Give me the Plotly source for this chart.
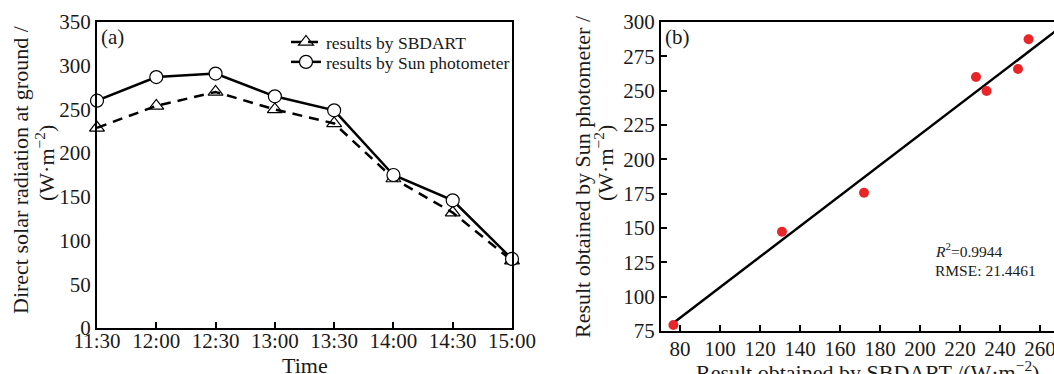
import plotly.graph_objects as go

W, H = 1054, 374

# ---- data ----
times = ["11:30", "12:00", "12:30", "13:00", "13:30", "14:00", "14:30", "15:00"]
sbdart = [229, 254, 270, 250, 234, 171, 132, 77]
sunphot = [260, 287, 291, 265, 249, 175, 146, 79]

scatter_x = [76.7, 131, 172, 228, 233.3, 249, 254.3]
scatter_y = [79.4, 147.3, 175.7, 260, 249.8, 265.8, 287.4]

fit_slope = 1.112
fit_intercept = -4.4
fit_x = [77.5, 275]
fit_y = [fit_slope * v + fit_intercept for v in fit_x]

left_yticks = [0, 50, 100, 150, 200, 250, 300, 350]
right_xticks = [80, 100, 120, 140, 160, 180, 200, 220, 240, 260]
right_yticks = [75, 100, 125, 150, 175, 200, 225, 250, 275, 300]

FONT = "Liberation Serif"
TXT = "#1a1a1a"

def px(x):
    return x / W

def py(y):
    return 1 - y / H

fig = go.Figure()

fig.add_trace(go.Scatter(
    x=times, y=sbdart, name="results by SBDART", mode="lines+markers",
    line=dict(color="black", width=2.5, dash="10px,7px"),
    marker=dict(symbol="triangle-up-open", size=13, color="black", line=dict(width=1.2)),
    cliponaxis=False, xaxis="x", yaxis="y", legend="legend"))
fig.add_trace(go.Scatter(
    x=times, y=sunphot, name="results by Sun photometer", mode="lines+markers",
    line=dict(color="black", width=2.5),
    marker=dict(symbol="circle", size=13, color="white", line=dict(width=1.2, color="black")),
    cliponaxis=False, xaxis="x", yaxis="y", legend="legend2"))

fig.add_trace(go.Scatter(
    x=fit_x, y=fit_y, mode="lines", line=dict(color="black", width=2.5),
    showlegend=False, xaxis="x2", yaxis="y2"))
fig.add_trace(go.Scatter(
    x=scatter_x, y=scatter_y, mode="markers",
    marker=dict(color="#e8262a", size=10), cliponaxis=False,
    showlegend=False, xaxis="x2", yaxis="y2"))

tickfont = dict(family=FONT, size=21, color=TXT)
legfont = dict(family=FONT, size=17.5, color=TXT)

fig.update_layout(
    width=W, height=H,
    margin=dict(l=0, r=0, t=0, b=0),
    paper_bgcolor="white", plot_bgcolor="white",
    font=dict(family=FONT, color=TXT),
    xaxis=dict(domain=[px(97), px(512)], type="category", range=[0, 7],
               showline=True, linecolor="black", linewidth=2, mirror=True,
               ticks="inside", ticklen=6, tickwidth=1.5, tickcolor="black",
               tickfont=tickfont, showgrid=False, zeroline=False, automargin=False,
               ticklabelstandoff=-7, ticklabeloverflow="allow", anchor="y"),
    yaxis=dict(domain=[py(328), py(22)], range=[0, 350], tickvals=left_yticks,
               showline=True, linecolor="black", linewidth=2, mirror=True,
               ticks="", tickfont=tickfont, showgrid=False, zeroline=False,
               automargin=False, ticklabeloverflow="allow", anchor="x"),
    xaxis2=dict(domain=[px(661), 1], range=[70.5, 267], tickvals=right_xticks,
                showline=True, linecolor="black", linewidth=2, mirror=True,
                ticks="inside", ticklen=6, tickwidth=1.5, tickcolor="black",
                tickfont=tickfont, showgrid=False, zeroline=False, automargin=False,
                ticklabelstandoff=-2, ticklabeloverflow="allow", anchor="y2"),
    yaxis2=dict(domain=[py(331), py(22)], range=[75, 300], tickvals=right_yticks,
                showline=True, linecolor="black", linewidth=2, mirror=False,
                ticks="inside", ticklen=6, tickwidth=1.5, tickcolor="black",
                tickfont=tickfont, showgrid=False, zeroline=False, automargin=False,
                ticklabeloverflow="allow", anchor="x2"),
    legend=dict(x=px(286), y=py(42), xanchor="left", yanchor="middle",
                bgcolor="rgba(0,0,0,0)", borderwidth=0, font=legfont, itemwidth=30),
    legend2=dict(x=px(286), y=py(62), xanchor="left", yanchor="middle",
                 bgcolor="rgba(0,0,0,0)", borderwidth=0, font=legfont, itemwidth=30),
    showlegend=True,
)

ann = []
def A(text, x, y, size=22, angle=0, xanchor="center", yanchor="middle"):
    ann.append(dict(text=text, x=px(x), y=py(y), xref="paper", yref="paper",
                    showarrow=False, textangle=angle, xanchor=xanchor, yanchor=yanchor,
                    font=dict(family=FONT, size=size, color=TXT)))

A("Direct solar radiation at ground /", 20, 170, angle=-90)
A("(W·m<sup>−2</sup>)", 45, 163, angle=-90)
A("Time", 305, 365)
A("(a)", 99, 37, size=21, xanchor="left")

A("Result obtained by Sun photometer /", 582, 177, angle=-90)
A("(W·m<sup>−2</sup>)", 604, 163, angle=-90)
A("Result obtained by SBDART /(W·m<sup>−2</sup>)", 867, 371)
A("(b)", 663, 37, size=21, xanchor="left")
A("<i>R</i><sup>2</sup>=0.9944", 933, 250, size=15.5, xanchor="left")
A("RMSE: 21.4461", 933, 270, size=15.5, xanchor="left")

fig.update_layout(annotations=ann)

fig.write_html("out.html")
